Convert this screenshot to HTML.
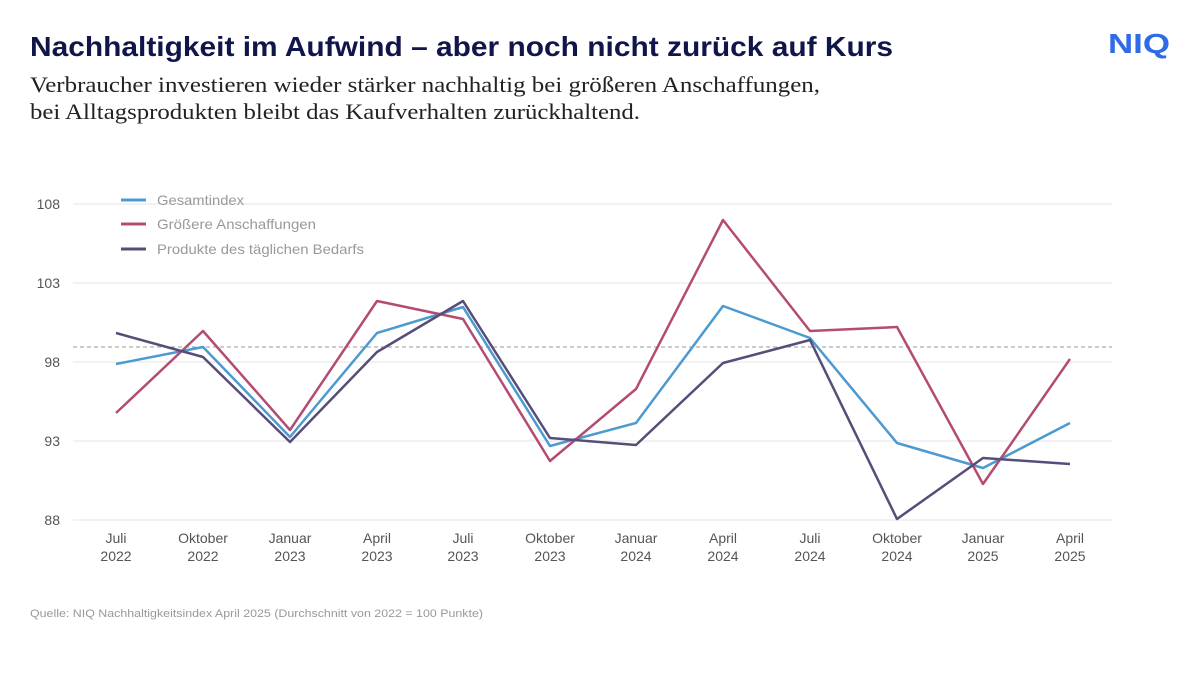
<!DOCTYPE html>
<html><head><meta charset="utf-8"><style>
body{margin:0;width:1200px;height:675px;background:#fff;overflow:hidden}
</style></head><body>
<svg width="1200" height="675" xmlns="http://www.w3.org/2000/svg">
<text x="30" y="56" font-family="Liberation Sans, sans-serif" font-size="28" font-weight="bold" fill="#10164a" textLength="863" lengthAdjust="spacingAndGlyphs">Nachhaltigkeit im Aufwind – aber noch nicht zurück auf Kurs</text>
<text x="1108" y="53" font-family="Liberation Sans, sans-serif" font-size="28" font-weight="bold" fill="#2f6be8" textLength="62" lengthAdjust="spacingAndGlyphs">NIQ</text>
<text x="30" y="92" font-family="Liberation Serif, serif" font-size="22" fill="#222" textLength="790" lengthAdjust="spacingAndGlyphs">Verbraucher investieren wieder stärker nachhaltig bei größeren Anschaffungen,</text>
<text x="30" y="119" font-family="Liberation Serif, serif" font-size="22" fill="#222" textLength="610" lengthAdjust="spacingAndGlyphs">bei Alltagsprodukten bleibt das Kaufverhalten zurückhaltend.</text>
<g stroke="#e6e6e6" stroke-width="1">
<line x1="73" x2="1112" y1="204" y2="204"/><line x1="73" x2="1112" y1="283" y2="283"/><line x1="73" x2="1112" y1="362" y2="362"/><line x1="73" x2="1112" y1="441" y2="441"/><line x1="73" x2="1112" y1="520" y2="520"/>
</g>
<line x1="73" x2="1112" y1="347" y2="347" stroke="#999" stroke-dasharray="4,3" stroke-width="1"/>
<g font-family="Liberation Sans, sans-serif" font-size="14" fill="#555" text-anchor="end">
<text x="60" y="209">108</text><text x="60" y="288">103</text><text x="60" y="367">98</text><text x="60" y="446">93</text><text x="60" y="525">88</text>
</g>
<g font-family="Liberation Sans, sans-serif" font-size="14" fill="#555" text-anchor="middle">
<text x="116" y="543">Juli</text><text x="116" y="561">2022</text>
<text x="203" y="543">Oktober</text><text x="203" y="561">2022</text>
<text x="290" y="543">Januar</text><text x="290" y="561">2023</text>
<text x="377" y="543">April</text><text x="377" y="561">2023</text>
<text x="463" y="543">Juli</text><text x="463" y="561">2023</text>
<text x="550" y="543">Oktober</text><text x="550" y="561">2023</text>
<text x="636" y="543">Januar</text><text x="636" y="561">2024</text>
<text x="723" y="543">April</text><text x="723" y="561">2024</text>
<text x="810" y="543">Juli</text><text x="810" y="561">2024</text>
<text x="897" y="543">Oktober</text><text x="897" y="561">2024</text>
<text x="983" y="543">Januar</text><text x="983" y="561">2025</text>
<text x="1070" y="543">April</text><text x="1070" y="561">2025</text>
</g>
<g fill="none" stroke-width="2.5" stroke-linejoin="round">
<polyline stroke="#4b9ad0" points="116,364 203,347 290,437 377,333 463,307 550,446 636,423 723,306 810,338 897,443 983,468 1070,423"/>
<polyline stroke="#b44c72" points="116,413 203,331 290,430 377,301 463,319 550,461 636,389 723,220 810,331 897,327 983,484 1070,359"/>
<polyline stroke="#584c79" points="116,333 203,357 290,442 377,352 463,301 550,438 636,445 723,363 810,340 897,519 983,458 1070,464"/>
</g>
<g stroke-width="3">
<line x1="121" x2="146" y1="200" y2="200" stroke="#4b9ad0"/>
<line x1="121" x2="146" y1="224" y2="224" stroke="#b44c72"/>
<line x1="121" x2="146" y1="249" y2="249" stroke="#584c79"/>
</g>
<g font-family="Liberation Sans, sans-serif" font-size="14" fill="#999">
<text x="157" y="205" textLength="87" lengthAdjust="spacingAndGlyphs">Gesamtindex</text>
<text x="157" y="229" textLength="159" lengthAdjust="spacingAndGlyphs">Größere Anschaffungen</text>
<text x="157" y="254" textLength="207" lengthAdjust="spacingAndGlyphs">Produkte des täglichen Bedarfs</text>
</g>
<text x="30" y="617" font-family="Liberation Sans, sans-serif" font-size="11" fill="#999" textLength="453" lengthAdjust="spacingAndGlyphs">Quelle: NIQ Nachhaltigkeitsindex April 2025 (Durchschnitt von 2022 = 100 Punkte)</text>
</svg>
</body></html>
